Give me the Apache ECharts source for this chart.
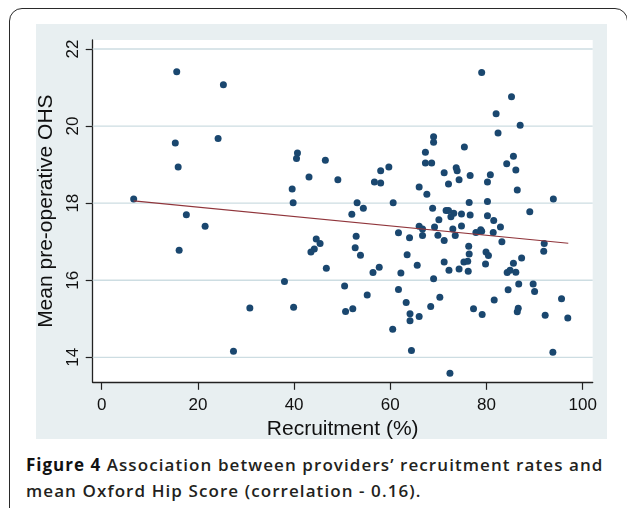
<!DOCTYPE html>
<html><head><meta charset="utf-8">
<script src="https://cdn.jsdelivr.net/npm/echarts@6/dist/echarts.min.js"></script>
<style>
html,body{margin:0;padding:0;width:627px;height:508px;overflow:hidden;background:#fff;}
#frame{position:absolute;left:8.5px;top:7.5px;width:619px;height:540px;border:1.6px solid #2a2a2a;border-radius:13px;box-sizing:border-box;}
#chart{position:absolute;left:36px;top:24px;width:571px;height:415px;}
#caption{position:absolute;left:26px;top:451.5px;font-family:'Open Sans',sans-serif;font-weight:600;font-size:17px;letter-spacing:1.08px;line-height:26.7px;color:#231f20;white-space:nowrap;}
#caption b{font-weight:700;letter-spacing:1px;color:#111;}
</style></head>
<body>
<div id="frame"></div>
<div id="chart"></div>
<div id="caption"><b>Figure 4</b> Association between providers’ recruitment rates and<br>mean Oxford Hip Score (correlation - 0.16).</div>
<script>
const xTicks = [0, 20, 40, 60, 80, 100];
const yTicks = [14, 16, 18, 20, 22];
const recruitment = [
  6.65, 15.6, 25.3, 15.3, 24.2, 15.9, 17.6, 21.5, 16.1, 30.8, 27.4, 38.0, 39.9,
  40.7, 40.5, 46.5, 43.1, 49.1, 39.6, 39.8, 53.1, 54.4, 52.0, 52.9, 44.6, 45.4, 44.2, 43.5, 52.7, 53.8, 46.7, 56.4, 50.5, 55.2, 50.7, 52.2,
  56.7, 58.0, 58.0, 59.7, 60.6, 66.0, 67.6, 67.3, 67.3, 68.6, 69.0, 69.0, 71.2, 72.1, 73.7, 73.9, 74.3, 75.4, 76.6,
  79.0, 85.2, 82.0, 87.0, 82.4, 85.6, 84.2, 86.1, 80.8, 80.2, 86.4, 93.9, 89.0, 76.4, 80.2,
  68.8, 70.1, 71.6, 72.1, 73.2, 72.6, 74.8, 76.6, 80.2, 81.5, 82.9, 66.0, 69.2, 73.0, 74.8, 78.8,
  66.7, 66.7, 61.7, 64.0, 69.9, 71.2, 73.5, 63.5, 65.6, 71.2, 72.2, 74.3, 75.3, 57.7, 62.2, 69.0,
  61.7, 70.3, 63.3, 68.4, 64.1, 66.0, 64.1, 60.5, 64.4, 72.4,
  76.1, 76.2, 76.3, 76.4, 77.3, 79.1, 77.8, 79.0, 79.9, 80.4, 79.8, 81.4, 83.2, 81.6,
  84.3, 84.9, 85.6, 86.1, 87.3, 86.7, 84.5, 86.6, 86.4, 89.7, 90.0, 92.2, 95.6, 96.9, 93.8, 92.0, 91.9
];
const meanOHS = [
  18.11, 21.41, 21.07, 19.56, 19.68, 18.94, 17.70, 17.40, 16.78, 15.28, 14.16, 15.97, 15.30,
  19.30, 19.16, 19.11, 18.68, 18.61, 18.37, 18.01, 18.01, 17.87, 17.71, 17.14, 17.07, 16.95, 16.81, 16.73, 16.84, 16.65, 16.31, 16.20, 15.85, 15.62, 15.19, 15.26,
  18.55, 18.52, 18.84, 18.94, 18.01, 18.42, 18.23, 19.32, 19.04, 19.04, 19.72, 19.58, 18.79, 18.50, 18.92, 18.84, 18.61, 19.46, 18.72,
  21.39, 20.76, 20.32, 20.02, 19.82, 19.22, 19.02, 18.86, 18.74, 18.55, 18.34, 18.11, 17.78, 18.02, 18.04,
  17.87, 17.57, 17.81, 17.81, 17.74, 17.65, 17.72, 17.69, 17.67, 17.55, 17.38, 17.40, 17.38, 17.33, 17.41, 17.31,
  17.33, 17.16, 17.23, 17.10, 17.17, 17.03, 17.16, 16.66, 16.39, 16.47, 16.26, 16.29, 16.47, 16.34, 16.19, 16.04,
  15.76, 15.56, 15.42, 15.32, 15.13, 15.06, 14.95, 14.73, 14.18, 13.59,
  16.49, 16.23, 16.88, 16.68, 15.26, 15.11, 17.24, 17.27, 16.73, 16.64, 16.42, 17.24, 17.00, 15.49,
  16.20, 16.26, 16.44, 16.21, 16.58, 15.90, 15.75, 15.27, 15.18, 15.90, 15.71, 15.09, 15.52, 15.02, 14.13, 16.95, 16.75
];
const fitX = [6.65, 97.0];
const fitY = [18.06, 16.96];

const X_MIN = -1.871, X_MAX = 102.08;
const chart = echarts.init(document.getElementById('chart'), null, {renderer: 'canvas'});
const axisFont = 'Liberation Sans, Arial, sans-serif';

const gridSeries = yTicks.map(v => ({
  type: 'line',
  data: [[X_MIN, v], [X_MAX, v]],
  showSymbol: false,
  silent: true,
  clip: false,
  lineStyle: {color: '#cddde2', width: 1.3},
  z: 2
}));

chart.setOption({
  animation: false,
  backgroundColor: '#e8eff1',
  grid: {left: 56.7, top: 16, width: 500, height: 342.3, show: true, backgroundColor: '#ffffff', borderWidth: 0, outerBoundsMode: 'none', containLabel: false, z: 0},
  xAxis: {
    type: 'value', min: X_MIN, max: X_MAX,
    name: 'Recruitment (%)', nameLocation: 'middle', nameGap: 29,
    nameTextStyle: {fontFamily: axisFont, fontSize: 21, color: '#111'},
    axisLine: {show: true, onZero: false, lineStyle: {color: '#222', width: 1.3}},
    axisTick: {show: true, customValues: xTicks, length: 7.5, lineStyle: {color: '#222', width: 1.2}},
    axisLabel: {customValues: xTicks, margin: 15, fontFamily: axisFont, fontSize: 17, color: '#111'},
    splitLine: {show: false}
  },
  yAxis: {
    type: 'value', min: 13.352, max: 22.233,
    name: 'Mean pre-operative OHS', nameLocation: 'middle', nameGap: 35,
    nameTextStyle: {fontFamily: axisFont, fontSize: 21, color: '#111'},
    axisLine: {show: true, onZero: false, lineStyle: {color: '#222', width: 1.3}},
    axisTick: {show: true, customValues: yTicks, length: 7, lineStyle: {color: '#222', width: 1.2}},
    axisLabel: {customValues: yTicks, margin: 11, rotate: 90, fontFamily: axisFont, fontSize: 17, color: '#111'},
    splitLine: {show: false}
  },
  series: gridSeries.concat([
    {
      type: 'scatter',
      data: recruitment.map((x, i) => [x, meanOHS[i]]),
      symbolSize: 7,
      itemStyle: {color: '#1a476f', opacity: 1},
      z: 3
    },
    {
      type: 'line',
      data: fitX.map((x, i) => [x, fitY[i]]),
      showSymbol: false,
      lineStyle: {color: '#90353b', width: 1.1},
      z: 4
    }
  ])
});
</script>
</body></html>
